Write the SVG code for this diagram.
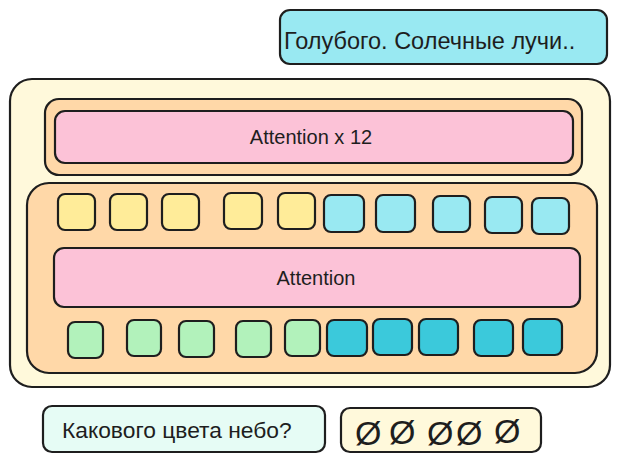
<svg xmlns="http://www.w3.org/2000/svg" width="621" height="465" viewBox="0 0 621 465">
<style>
.b{stroke:#1e1e1e;stroke-width:2.2;stroke-linejoin:round}
.t{font-family:"Liberation Sans",Arial,sans-serif;fill:#1e1e1e}
.y{fill:#ffec99}.c{fill:#99e9f2}.g{fill:#b2f2bb}.d{fill:#3bc9db}
</style>
<rect width="621" height="465" fill="#ffffff"/>
<g id="output">
<rect class="b" x="280" y="10" width="327" height="54" rx="10" fill="#99e9f2"/>
<text class="t" x="284" y="49" font-size="23.5">Голубого. Солечные лучи..</text>
</g>
<g id="model">
<rect class="b" x="10" y="79" width="600" height="308" rx="22" fill="#fff9db"/>
</g>
<g id="stack">
<rect class="b" x="45" y="99" width="537" height="76" rx="14" fill="#ffd8a8"/>
<rect class="b" x="55" y="111" width="518" height="52" rx="10" fill="#fcc2d7"/>
<text class="t" x="311" y="144" font-size="20" text-anchor="middle">Attention x 12</text>
</g>
<g id="layer">
<rect class="b" x="27" y="183" width="570" height="190" rx="22" fill="#ffd8a8"/>
<rect class="b" x="54" y="248" width="526" height="59" rx="10" fill="#fcc2d7"/>
<text class="t" x="316" y="285" font-size="20" text-anchor="middle">Attention</text>
</g>
<g id="tokens-top">
<rect class="b y" x="58" y="194" width="37" height="36" rx="7"/>
<rect class="b y" x="110" y="194" width="37" height="36" rx="7"/>
<rect class="b y" x="162" y="194" width="37" height="36" rx="7"/>
<rect class="b y" x="224" y="193" width="38" height="36" rx="7"/>
<rect class="b y" x="278" y="193" width="37" height="36" rx="7"/>
<rect class="b c" x="324" y="195" width="40" height="37" rx="7"/>
<rect class="b c" x="376" y="195" width="39" height="37" rx="7"/>
<rect class="b c" x="433" y="196" width="37" height="36" rx="7"/>
<rect class="b c" x="485" y="197" width="37" height="36" rx="7"/>
<rect class="b c" x="532" y="198" width="37" height="36" rx="7"/>
</g>
<g id="tokens-bottom">
<rect class="b g" x="68" y="322" width="35" height="36" rx="7"/>
<rect class="b g" x="127" y="320" width="34" height="36" rx="7"/>
<rect class="b g" x="179" y="321" width="35" height="36" rx="7"/>
<rect class="b g" x="236" y="321" width="35" height="36" rx="7"/>
<rect class="b g" x="285" y="320" width="35" height="36" rx="7"/>
<rect class="b d" x="327" y="320" width="40" height="36" rx="7"/>
<rect class="b d" x="373" y="319" width="39" height="36" rx="7"/>
<rect class="b d" x="419" y="319" width="39" height="36" rx="7"/>
<rect class="b d" x="474" y="320" width="39" height="36" rx="7"/>
<rect class="b d" x="523" y="319" width="39" height="36" rx="7"/>
</g>
<g id="input">
<rect class="b" x="43" y="406" width="282" height="46" rx="9" fill="#e6fcf5"/>
<text class="t" x="62" y="438" font-size="22.8">Какового цвета небо?</text>
</g>
<g id="padding">
<rect class="b" x="341" y="408" width="200" height="44" rx="9" fill="#fff9db"/>
<text class="t" x="355" y="445" font-size="34">Ø</text>
<text class="t" x="389" y="444" font-size="34">Ø</text>
<text class="t" x="427" y="445" font-size="34">Ø</text>
<text class="t" x="456" y="445" font-size="34">Ø</text>
<text class="t" x="494" y="443" font-size="34">Ø</text>
</g>
</svg>
